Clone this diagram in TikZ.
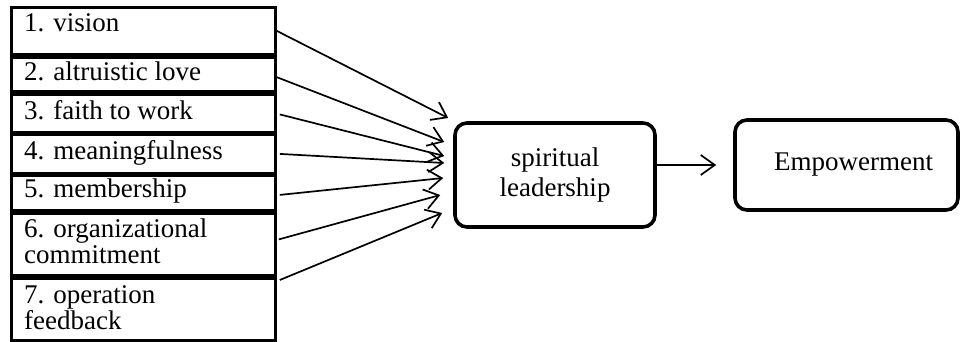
\documentclass[tikz,border=0pt]{standalone}
\usepackage{fontspec}
\setmainfont{Liberation Serif}
\usetikzlibrary{arrows.meta, positioning, calc}

\tikzset{
  factor/.style={draw, line width=2.8pt, anchor=north west, minimum width=264pt, inner sep=0pt},
  factortext/.style={anchor=north west, inner sep=0pt, align=left, font=\fontsize{27}{26}\selectfont},
  mainbox/.style={draw, line width=3.6pt, rounded corners=12pt, align=center, inner sep=0pt, font=\fontsize{27}{30}\selectfont},
  arr/.style={-{Straight Barb[length=14pt, width=20pt]}, line width=1.7pt}
}

\begin{document}
\begin{tikzpicture}[x=1pt, y=-1pt]
    \useasboundingbox (0,0) rectangle (960,341);

    % Factor boxes
    \node[factor, minimum height=47pt] (b1) at (10,6) {};
    \node[factor, minimum height=34pt] (b2) at (10,56) {};
    \node[factor, minimum height=38pt] (b3) at (10,93) {};
    \node[factor, minimum height=39pt] (b4) at (10,133) {};
    \node[factor, minimum height=35pt] (b5) at (10,174) {};
    \node[factor, minimum height=62pt] (b6) at (10,212) {};
    \node[factor, minimum height=62pt] (b7) at (10,277) {};

    % Factor labels
    \node[factortext] (t1) at ($(b1.north west)+(14,7)$) {1. vision};
    \node[factortext] (t2) at ($(b2.north west)+(14,6)$) {2. altruistic love};
    \node[factortext] (t3) at ($(b3.north west)+(14,7)$) {3. faith to work};
    \node[factortext] (t4) at ($(b4.north west)+(14,7)$) {4. meaningfulness};
    \node[factortext] (t5) at ($(b5.north west)+(14,5)$) {5. membership};
    \node[factortext] (t6) at ($(b6.north west)+(14,7)$) {6. organizational\\commitment};
    \node[factortext] (t7) at ($(b7.north west)+(14,8)$) {7. operation\\feedback};

    % Main boxes
    \node[mainbox, minimum width=200pt, minimum height=104pt] (sl) at (555,175) {spiritual\\leadership};
    \node[mainbox, minimum width=223pt, minimum height=90pt] (emp) at (846.5,165) {\hspace*{14pt}Empowerment};

    % Arrows into spiritual leadership
    \draw[arr] (b1.east) -- ([shift={(-5,-57)}]sl.west);
    \draw[arr] ([shift={(-2,2)}]b2.east) -- ([shift={(-9,-33)}]sl.west);
    \draw[arr] ([shift={(3,1)}]b3.east) -- ([shift={(-9,-19)}]sl.west);
    \draw[arr] ([shift={(3,0)}]b4.east) -- ([shift={(-9,-12)}]sl.west);
    \draw[arr] ([shift={(3,2)}]b5.east) -- ([shift={(-10,3)}]sl.west);
    \draw[arr] ([shift={(2,-5)}]b6.east) -- ([shift={(-13,20)}]sl.west);
    \draw[arr] ([shift={(3,3)}]b7.north east) -- ([shift={(-11,38)}]sl.west);

    % Arrow to empowerment
    \draw[arr] (sl.east |- emp.west) -- ([xshift=-17pt]emp.west);
\end{tikzpicture}
\end{document}
